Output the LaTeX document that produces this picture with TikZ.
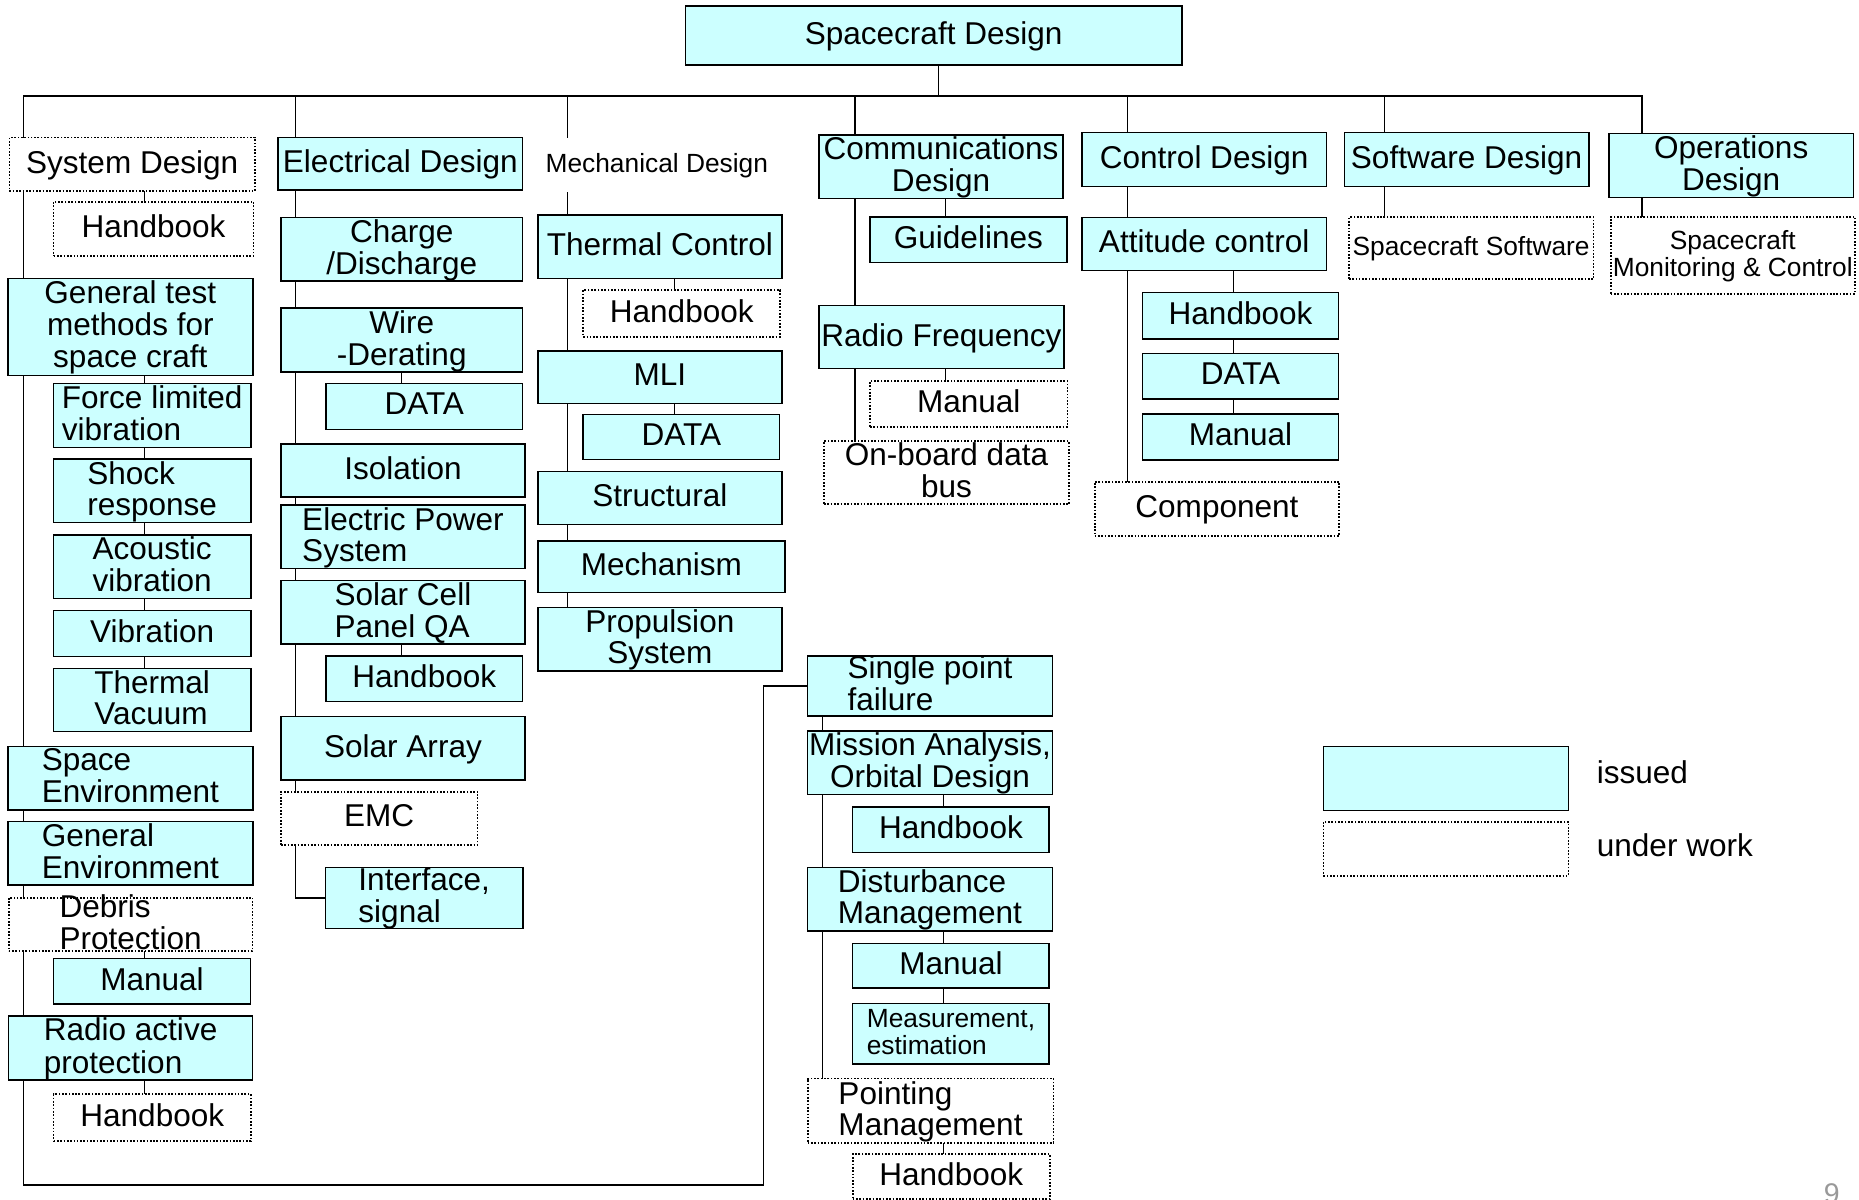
\documentclass[tikz,border=0pt]{standalone}
\usepackage{fontspec}
\setmainfont{Liberation Sans}
\usetikzlibrary{backgrounds}
\definecolor{issuedfill}{HTML}{CCFFFF}
\newcommand\fbig{\fontsize{26.6}{25.8}\selectfont}
\newcommand\fsmall{\fontsize{22.2}{22.6}\selectfont}
\tikzset{
  issuedbox/.style={draw, fill=issuedfill, line width=1.3pt, inner sep=0pt, outer sep=0pt, font=\fbig},
  workbox/.style={draw, fill=white, line width=1.5pt, dash pattern=on 1.4pt off 1.4pt, inner sep=0pt, outer sep=0pt, font=\fbig},
  plainbox/.style={inner sep=0pt, outer sep=0pt, font=\fsmall},
  conn/.style={line width=1.2pt},
}
% \bx[align]{style}{name}{x1}{y1}{x2}{y2}{text}: box given by its corners
\newcommand\bx[8][c]{%
  \pgfmathsetmacro\bxw{#6-#4}%
  \pgfmathsetmacro\bxh{#7-#5}%
  \pgfmathsetmacro\bxcx{(#4+#6)/2}%
  \pgfmathsetmacro\bxcy{(#5+#7)/2}%
  \node[#2, minimum width=\bxw pt, minimum height=\bxh pt] (#3) at (\bxcx,\bxcy)
    {\smash{\raisebox{-0.30em}{\begin{tabular}[c]{@{}#1@{}}#8\end{tabular}}}};}
\begin{document}
\begin{tikzpicture}[x=1pt, y=-1pt]
\useasboundingbox (0,0) rectangle (1568,1012);

% root
\bx{issuedbox}{root}{578}{5}{997}{55}{Spacecraft Design}

% system design column
\bx{workbox}{sys}{8}{116}{215}{161}{System Design}
\bx{workbox}{hb1}{45.2}{170.1}{213.9}{215.9}{Handbook}
\bx{issuedbox}{gtm}{6.6}{234.8}{213.3}{316.6}{General test\\methods for\\space craft}
\bx[l]{issuedbox}{flv}{45.2}{323.3}{211.5}{377.6}{Force limited\\vibration}
\bx[l]{issuedbox}{shock}{45.2}{387.2}{211.5}{440.8}{Shock\\response}
\bx[l]{issuedbox}{acou}{45.2}{451.2}{211.5}{504.7}{Acoustic\\vibration}
\bx{issuedbox}{vib}{45.2}{515.1}{211.5}{553.9}{Vibration}
\bx[l]{issuedbox}{tv}{45.2}{563.7}{211.5}{617.1}{Thermal\\Vacuum}
\bx[l]{issuedbox}{spe}{6.6}{629.8}{213.3}{683.2}{Space\\Environment}
\bx[l]{issuedbox}{gen}{6.6}{693}{213.3}{746.5}{General\\Environment}
\bx[l]{workbox}{deb}{7.3}{757.2}{213}{802.1}{Debris\\Protection}
\bx{issuedbox}{man1}{45.2}{808.3}{211.3}{846.8}{Manual}
\bx[l]{issuedbox}{rad}{7.3}{857}{213}{911}{Radio active\\protection}
\bx{workbox}{hb2}{45.2}{923}{211.7}{962.4}{Handbook}

% electrical design column
\bx{issuedbox}{ele}{234.7}{115.8}{440.7}{160.3}{Electrical Design}
\bx{issuedbox}{chg}{237}{183.3}{440.7}{237}{Charge\\/Discharge}
\bx{issuedbox}{wire}{237}{260}{440.7}{313.8}{Wire\\-Derating}
\bx{issuedbox}{data2}{275}{323.6}{440.7}{362.1}{DATA}
\bx{issuedbox}{iso}{237}{374.5}{442.8}{419}{Isolation}
\bx[l]{issuedbox}{eps}{237}{426}{442.8}{479.4}{Electric Power\\System}
\bx[l]{issuedbox}{scp}{237}{489.8}{442.8}{543.2}{Solar Cell\\Panel QA}
\bx{issuedbox}{hb3}{275}{553.3}{440.7}{591.8}{Handbook}
\bx{issuedbox}{sa}{237}{604.5}{442.8}{657.9}{Solar Array}
\bx{workbox}{emc}{237}{667.7}{402.7}{712.7}{EMC}
\bx[l]{issuedbox}{ifc}{274.5}{731.8}{441.1}{783}{Interface,\\signal}

% mechanical design column
\bx{plainbox}{mech}{455}{116.7}{653}{162.2}{Mechanical Design}
\bx{issuedbox}{tc}{453.7}{181.3}{659.4}{234.8}{Thermal Control}
\bx{workbox}{hb4}{491.9}{244.6}{658.2}{284}{Handbook}
\bx{issuedbox}{mli}{453.7}{296}{659.4}{340.2}{MLI}
\bx{issuedbox}{data3}{491.9}{349.5}{657.6}{387.4}{DATA}
\bx{issuedbox}{str}{453.7}{397.8}{659.4}{442.3}{Structural}
\bx{issuedbox}{mec}{453.7}{456.3}{662}{499.9}{Mechanism}
\bx{issuedbox}{prop}{453.7}{512.5}{659.4}{566}{Propulsion\\System}

% communications design column
\bx{issuedbox}{comm}{690.7}{113.9}{896.8}{167.3}{Communications\\Design}
\bx{issuedbox}{guide}{733.8}{182.8}{899.8}{221.5}{Guidelines}
\bx{issuedbox}{rf}{690.7}{257.8}{897.5}{311}{Radio Frequency}
\bx{workbox}{man4}{733.8}{321.4}{900.4}{359.9}{Manual}
\bx{workbox}{obd}{695}{372}{901.6}{425.4}{On-board data\\bus}

% branch reached by the long loop
\bx[l]{issuedbox}{spf}{681.2}{553.3}{887.6}{603.9}{Single point\\failure}
\bx{issuedbox}{mis}{681.2}{616.6}{887.6}{670.2}{Mission Analysis,\\Orbital Design}
\bx{issuedbox}{hb5}{719.2}{680.8}{885}{719}{Handbook}
\bx[l]{issuedbox}{dist}{681.2}{731.7}{887.6}{785.3}{Disturbance\\Management}
\bx{issuedbox}{man5}{719.2}{795.9}{885}{833.5}{Manual}
\bx[l]{issuedbox, font=\fsmall}{meas}{719.2}{846.5}{885}{897.4}{Measurement,\\estimation}
\bx[l]{workbox}{pm}{681.2}{909.7}{888.5}{964}{Pointing\\Management}
\bx{workbox}{hb6}{719.2}{973.6}{885.5}{1011.2}{Handbook}

% control design column
\bx{issuedbox}{ctl}{912.5}{111.9}{1118.8}{157.4}{Control Design}
\bx{issuedbox}{att}{912.5}{183.3}{1118.8}{228.3}{Attitude control}
\bx{issuedbox}{hb7}{963.6}{246.8}{1129.1}{286}{Handbook}
\bx{issuedbox}{data5}{963.6}{298}{1129.1}{336.5}{DATA}
\bx{issuedbox}{man7}{963.6}{349.2}{1129.1}{388}{Manual}
\bx{workbox}{comp}{923.3}{406.3}{1129.6}{451.8}{Component}

% software and operations columns
\bx{issuedbox}{sw}{1133.9}{111.9}{1340.2}{157.4}{Software Design}
\bx{workbox, font=\fsmall}{scs}{1137.7}{183.3}{1344}{235.3}{Spacecraft Software}
\bx{issuedbox}{ops}{1357}{112.5}{1563.3}{166.7}{Operations\\Design}
\bx{workbox, font=\fsmall}{smc}{1358.6}{182.8}{1564.5}{248}{Spacecraft\\Monitoring \& Control}

% legend
\bx{issuedbox}{legi}{1116.3}{629.8}{1322.9}{683.5}{}
\bx{workbox}{legw}{1116.3}{693}{1322.9}{738.6}{}
\node[font=\fbig, anchor=base west, inner sep=0pt] (legit) at (1346.7,660.7) {issued};
\node[font=\fbig, anchor=base west, inner sep=0pt] (legwt) at (1346.7,722.6) {under work};

% page number at the lower edge
\node[font=\fontsize{24}{24}\selectfont, text=black!40, anchor=north, inner sep=0pt] (pg) at (1545,998) {9};

% connector positions
\coordinate (bar) at (0,81);
\coordinate (loopb) at (0,999.5);
\coordinate (loopr) at (644,0);
\coordinate (kr) at (791.7,0);
\coordinate (k1) at (19.8,0);   \coordinate (s1) at (122,0);
\coordinate (k2) at (249.4,0);  \coordinate (s2) at (338.6,0);
\coordinate (k3) at (478.7,0);  \coordinate (s3) at (568.7,0);
\coordinate (k4) at (721.2,0);  \coordinate (s4) at (797.7,0);
\coordinate (kp) at (693.6,0);  \coordinate (sp) at (795.7,0);
\coordinate (k5) at (951.2,0);  \coordinate (s5) at (1040.2,0);
\coordinate (k6) at (1167.8,0);
\coordinate (k7) at (1384.9,0);

\begin{pgfonlayer}{background}
  \draw[conn] (kr |- root.south) -- (kr |- bar);
  \draw[conn] (k7 |- smc.north) -- (k7 |- bar) -- (k1 |- bar) -- (k1 |- loopb)
        -- (loopr |- loopb) -- (loopr |- spf.west) -- (spf.west);
  \draw[conn] (k2 |- bar) -- (k2 |- ifc.west) -- (ifc.west);
  \draw[conn] (k3 |- bar) -- (k3 |- mech.north);
  \draw[conn] (k3 |- mech.south) -- (k3 |- prop.north);
  \draw[conn] (k4 |- bar) -- (k4 |- obd.north);
  \draw[conn] (k5 |- bar) -- (k5 |- comp.north);
  \draw[conn] (k6 |- bar) -- (k6 |- scs.north);

  \draw[conn] (s1 |- sys.south) -- (s1 |- hb1.north);
  \draw[conn] (s1 |- gtm.south) -- (s1 |- tv.north);
  \draw[conn] (s1 |- deb.south) -- (s1 |- man1.north);
  \draw[conn] (s1 |- rad.south) -- (s1 |- hb2.north);
  \draw[conn] (s2 |- wire.south) -- (s2 |- data2.north);
  \draw[conn] (s2 |- scp.south) -- (s2 |- hb3.north);
  \draw[conn] (s3 |- tc.south) -- (s3 |- hb4.north);
  \draw[conn] (s3 |- mli.south) -- (s3 |- data3.north);
  \draw[conn] (s4 |- comm.south) -- (s4 |- guide.north);
  \draw[conn] (s4 |- rf.south) -- (s4 |- man4.north);
  \draw[conn] (kp |- spf.south) -- (kp |- pm.north);
  \draw[conn] (sp |- mis.south) -- (sp |- hb5.north);
  \draw[conn] (sp |- dist.south) -- (sp |- meas.north);
  \draw[conn] (sp |- pm.south) -- (sp |- hb6.north);
  \draw[conn] (s5 |- att.south) -- (s5 |- man7.north);
\end{pgfonlayer}
\end{tikzpicture}
\end{document}
